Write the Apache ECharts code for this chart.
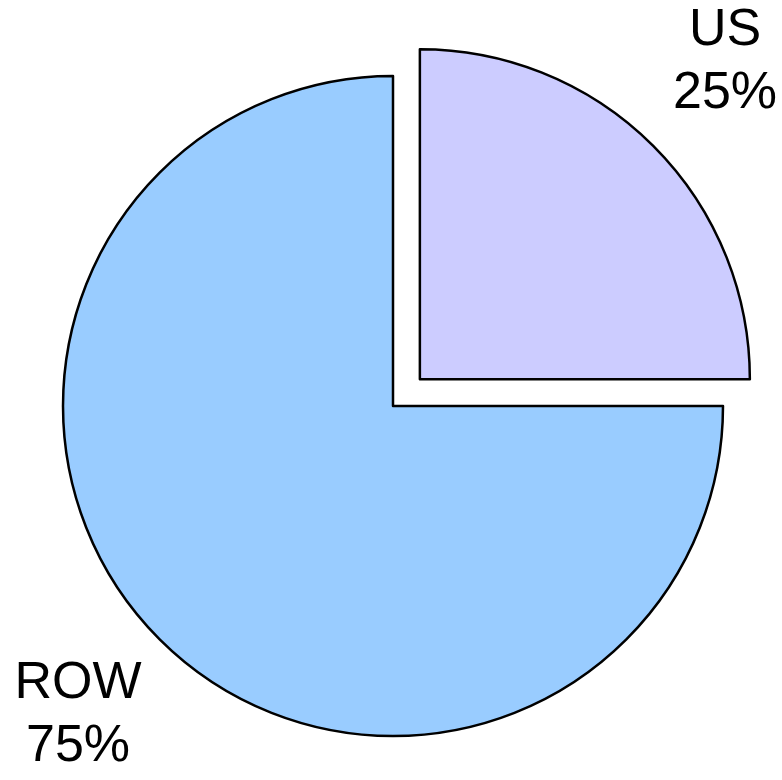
<!DOCTYPE html>
<html>
<head>
<meta charset="utf-8">
<script src="https://cdn.jsdelivr.net/npm/echarts@6/dist/echarts.min.js"></script>
<style>
  html, body { margin: 0; padding: 0; background: #fff; }
  #pie { width: 782px; height: 780px; }
</style>
</head>
<body>
<div id="pie"></div>
<script>
// slice names and shares (%)
const names = ['US', 'ROW'];
const shares = [25, 75];
const colors = ['#CCCCFF', '#99CCFF'];
// where each label sits (corner of the chart)
const labelPos = [[725, 62], [78, 715]];

const total = shares.reduce((a, b) => a + b, 0);

const chart = echarts.init(document.getElementById('pie'));
chart.setOption({
  animation: false,
  // labels as plain texts, the selected slice doesn't let labelLayout move its label
  graphic: names.map((n, i) => ({
    type: 'text',
    x: labelPos[i][0],
    y: labelPos[i][1],
    style: {
      text: n + '\n' + Math.round(shares[i] / total * 100) + '%',
      fontFamily: 'Liberation Sans, Arial, sans-serif',
      fontSize: 52,
      lineHeight: 63,
      align: 'center',
      verticalAlign: 'middle',
      fill: '#000'
    }
  })),
  series: [
    {
      type: 'pie',
      center: [393, 406],
      radius: 330,
      startAngle: 90,
      clockwise: true,
      selectedMode: 'single',
      selectedOffset: 38,
      itemStyle: { borderColor: '#000', borderWidth: 2.5 },
      label: { show: false },
      labelLine: { show: false },
      emphasis: { disabled: true },
      data: names.map((n, i) => ({
        name: n,
        value: shares[i],
        selected: i === 0,
        itemStyle: { color: colors[i] }
      }))
    }
  ]
});
</script>
</body>
</html>
